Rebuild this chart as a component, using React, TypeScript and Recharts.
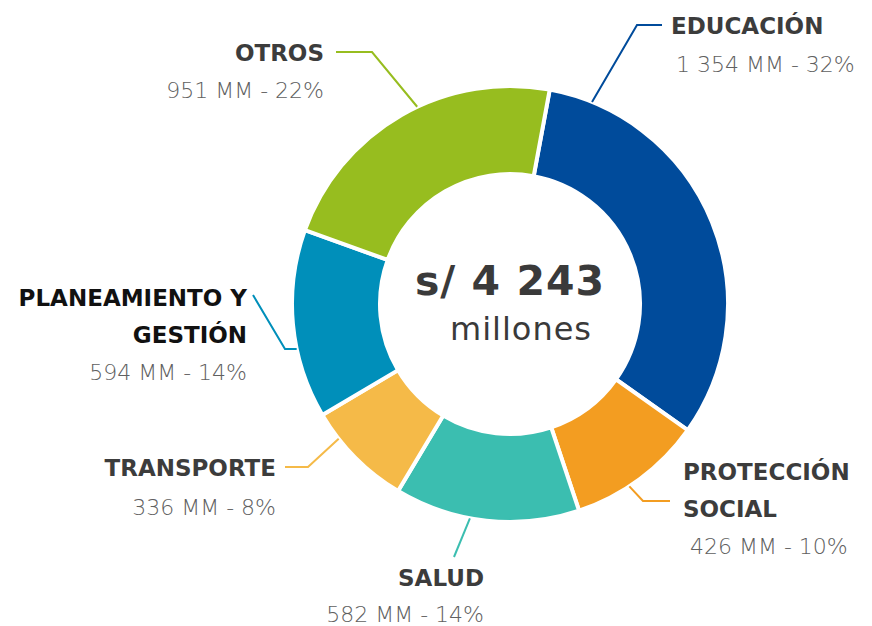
import { PieChart, Pie, Cell } from 'recharts';

// Presupuesto por función (millones de soles)
const categories = ['EDUCACIÓN', 'PROTECCIÓN SOCIAL', 'SALUD', 'TRANSPORTE', 'PLANEAMIENTO Y GESTIÓN', 'OTROS'];
const titleLines = [['EDUCACIÓN'], ['PROTECCIÓN', 'SOCIAL'], ['SALUD'], ['TRANSPORTE'], ['PLANEAMIENTO Y', 'GESTIÓN'], ['OTROS']];
const amounts = [1354, 426, 582, 336, 594, 951];
const shares = [32, 10, 14, 8, 14, 22];
const colors = ['#004B9B', '#F39D21', '#3BBEB0', '#F5BA48', '#008FBA', '#97BD1F'];
const totalLabel = 's/ 4 243';
const unitLabel = 'millones';

// label placement (leader anchor angle measured clockwise from top)
const labelLayout = [
  { angle: 22.1, path: [[637, 25], [662, 25]], anchor: 'start', x: 671, lines: [34], vx: 676, vy: 72, color: '#3c3c3c' },
  { angle: 146.8, path: [[643, 501], [670, 501]], anchor: 'start', x: 683, lines: [480, 517], vx: 690, vy: 554, color: '#3c3c3c' },
  { angle: 190.6, path: [[454, 557]], anchor: 'end', x: 484, lines: [586], vx: 484, vy: 622, color: '#3c3c3c' },
  { angle: 231.8, path: [[308, 467], [285, 467]], anchor: 'end', x: 276, lines: [476], vx: 276, vy: 515, color: '#3c3c3c' },
  { angle: 258.1, path: [[285, 349], [253, 295]], anchor: 'end', x: 247, lines: [306, 343], vx: 247, vy: 380, color: '#111111' },
  { angle: 334.8, path: [[372, 52], [336, 52]], anchor: 'end', x: 324, lines: [61], vx: 324, vy: 98, color: '#3c3c3c' },
];

const fmt = (n: number) => String(n).replace(/\B(?=(\d{3})+(?!\d))/g, ' ');

const data = categories.map((name, i) => ({ name, value: amounts[i], share: shares[i] }));

const FONT = '"DejaVu Sans", sans-serif';

function renderLabel(props: any) {
  const { cx, cy, outerRadius, index } = props;
  const l = labelLayout[index];
  const rad = (l.angle * Math.PI) / 180;
  const sx = cx + outerRadius * Math.sin(rad);
  const sy = cy - outerRadius * Math.cos(rad);
  const pts = [[sx, sy], ...l.path].map((p) => p.join(',')).join(' ');
  return (
    <g key={`lbl-${index}`}>
      <polyline points={pts} fill="none" stroke={colors[index]} strokeWidth={2} />
      {titleLines[index].map((t, j) => (
        <text key={j} x={l.x} y={l.lines[j]} textAnchor={l.anchor} fill={l.color}
          style={{ fontFamily: FONT, fontWeight: 700, fontSize: 23 }}>{t}</text>
      ))}
      <text x={l.vx} y={l.vy} textAnchor={l.anchor} fill="#606060"
        style={{ fontFamily: FONT, fontWeight: 300, fontSize: 22 }}>
        {`${fmt(amounts[index])} MM - ${shares[index]}%`}
      </text>
      {index === 0 && (
        <g>
          <text x={cx} y={cy - 9} textAnchor="middle" fill="#3a3a3a"
            style={{ fontFamily: FONT, fontWeight: 700, fontSize: 41, letterSpacing: 1 }}>{totalLabel}</text>
          <text x={cx + 11} y={cy + 36} textAnchor="middle" fill="#3a3a3a"
            style={{ fontFamily: FONT, fontWeight: 500, fontSize: 32, letterSpacing: 1 }}>{unitLabel}</text>
        </g>
      )}
    </g>
  );
}

export default function App() {
  return (
    <div style={{ position: 'absolute', left: 0, top: 0, width: 872, height: 626, background: '#fff' }}>
      <PieChart width={872} height={626} margin={{ top: 0, right: 0, bottom: 0, left: 0 }}>
        <Pie
          data={data}
          dataKey="value"
          nameKey="name"
          cx={510}
          cy={304}
          innerRadius={130}
          outerRadius={218}
          startAngle={79.5}
          endAngle={-280.5}
          stroke="#fff"
          strokeWidth={4}
          label={renderLabel}
          labelLine={false}
          isAnimationActive={false}
        >
          {data.map((d, i) => (
            <Cell key={d.name} fill={colors[i]} />
          ))}
        </Pie>
      </PieChart>
    </div>
  );
}
